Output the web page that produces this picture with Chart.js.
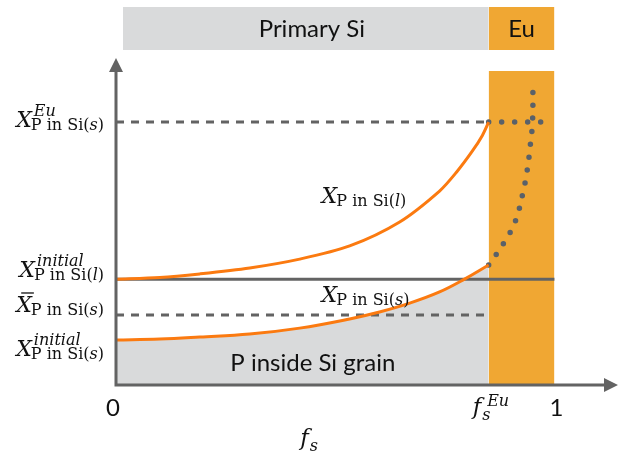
<!DOCTYPE html>
<html>
<head>
<meta charset="utf-8">
<script src="https://cdn.jsdelivr.net/npm/chart.js@4.4.1/dist/chart.umd.min.js"></script>
<style>
  body { margin: 0; background: #fff; }
  #wrap { width: 634px; height: 452px; }
</style>
</head>
<body>
<div id="wrap"><canvas id="schem" width="634" height="452"></canvas></div>
<script>
// x = solid fraction f_s, y = P content (arbitrary units)
const fsEu = 0.85;
const fsEnd = 1.0;

const liquidX = [0, 0.100, 0.191, 0.305, 0.419, 0.533, 0.647, 0.738, 0.777, 0.813, 0.836, 0.85];
const liquidY = [3.22, 3.27, 3.38, 3.56, 3.83, 4.23, 4.96, 5.90, 6.48, 7.12, 7.60, 8.0];

const solidX = [0, 0.100, 0.191, 0.305, 0.419, 0.533, 0.601, 0.670, 0.738, 0.795, 0.85];
const solidY = [1.37, 1.40, 1.46, 1.55, 1.73, 2.01, 2.22, 2.49, 2.83, 3.22, 3.65];

const euX = [0.85, 0.886, 0.911, 0.927, 0.938, 0.945, 0.950, 0.951];
const euY = [3.65, 4.35, 4.99, 5.78, 6.54, 7.30, 8.0, 9.28];

// levels on the y axis: X^Eu, X^initial (liquid), mean X (solid), X^initial (solid)
const levelValues = [8.0, 3.22, 2.13, 1.37];
const levelSup = ["Eu", "initial", "", "initial"];
const levelPhase = ["s", "l", "s", "s"];
const levelBar = [false, false, true, false];

const euLevelEnd = 0.98;
const bandTop = 9.55;
const topBarLow = 10.19, topBarHigh = 11.5, topBarStart = 0.016;
const xAxisMax = 1.145, yAxisMax = 11.5, yArrow = 9.95;

const orange = "#fb7a10";
const bandOrange = "#f0a733";
const lightGray = "#d9dadb";
const axisGray = "#636363";
const dotGray = "#5a6169";

const pts = (xs, ys) => xs.map((v, i) => ({ x: v, y: ys[i] }));
const flat = (x1, x2, v) => [{ x: x1, y: v }, { x: x2, y: v }];
const none = "rgba(0,0,0,0)";

const labelDy = [5, -2, -3, 16];

function drawX(ctx, xPos, base, o, align) {
  const mainF = 'italic 22px "DejaVu Serif"';
  const subF = '16px "DejaVu Serif"';
  const subIt = 'italic 16px "DejaVu Serif"';
  const supF = 'italic 16px "DejaVu Serif"';
  ctx.font = mainF;
  const wX = ctx.measureText("X").width;
  let subRuns = [];
  if (o.phase) subRuns = [["P in Si(", subF], [o.phase, subIt], [")", subF]];
  let subW = 0;
  subRuns.forEach(r => { ctx.font = r[1]; subW += ctx.measureText(r[0]).width; });
  ctx.font = supF;
  const supW = o.sup ? ctx.measureText(o.sup).width + 3 : 0;
  const total = wX + Math.max(subW, supW);
  const left = align === "right" ? xPos - total : xPos;
  ctx.textAlign = "left";
  ctx.textBaseline = "alphabetic";
  ctx.font = mainF;
  ctx.fillText("X", left, base);
  if (o.bar) {
    ctx.save();
    ctx.strokeStyle = "#111"; ctx.lineWidth = 1.3;
    ctx.beginPath(); ctx.moveTo(left + 5, base - 19); ctx.lineTo(left + wX + 2, base - 19); ctx.stroke();
    ctx.restore();
  }
  let cx = left + wX - 1;
  subRuns.forEach(r => { ctx.font = r[1]; ctx.fillText(r[0], cx, base + 3); cx += ctx.measureText(r[0]).width; });
  if (o.sup) { ctx.font = supF; ctx.fillText(o.sup, left + wX + 2, base - 11); }
}

function drawF(ctx, left, base, sup) {
  ctx.textAlign = "left"; ctx.textBaseline = "alphabetic";
  ctx.font = 'italic 23px "DejaVu Serif"';
  ctx.fillText("f", left, base);
  const w = ctx.measureText("f").width;
  ctx.font = 'italic 16px "DejaVu Serif"';
  ctx.fillText("s", left + w + 1, base + 6);
  if (sup) ctx.fillText(sup, left + w + 6, base - 8);
}

const annot = {
  id: "annot",
  afterDatasetsDraw(chart) {
    const { ctx, scales: { x, y } } = chart;
    ctx.save();
    const x0 = x.getPixelForValue(0), y0 = y.getPixelForValue(0);
    const yTop = y.getPixelForValue(yArrow), xEnd = x.getPixelForValue(xAxisMax);
    // axes with arrow heads
    ctx.strokeStyle = axisGray; ctx.fillStyle = axisGray; ctx.lineWidth = 3;
    ctx.beginPath();
    ctx.moveTo(x0, y0 + 1.5); ctx.lineTo(x0, yTop + 12);
    ctx.moveTo(x0 - 1.5, y0); ctx.lineTo(xEnd - 12, y0);
    ctx.stroke();
    ctx.beginPath();
    ctx.moveTo(x0, yTop); ctx.lineTo(x0 - 7, yTop + 14); ctx.lineTo(x0 + 7, yTop + 14); ctx.closePath();
    ctx.moveTo(xEnd, y0); ctx.lineTo(xEnd - 14, y0 - 7); ctx.lineTo(xEnd - 14, y0 + 7); ctx.closePath();
    ctx.fill();

    ctx.fillStyle = "#111";
    // y level labels
    levelValues.forEach((v, i) => {
      drawX(ctx, x0 - 11, y.getPixelForValue(v) + labelDy[i],
        { sup: levelSup[i], phase: levelPhase[i], bar: levelBar[i] }, "right");
    });
    // curve labels
    drawX(ctx, x.getPixelForValue(0.469), y.getPixelForValue(5.54), { phase: "l" }, "left");
    drawX(ctx, x.getPixelForValue(0.469), y.getPixelForValue(2.53), { phase: "s" }, "left");

    // x labels
    ctx.font = '24px Lato';
    ctx.textAlign = "center"; ctx.textBaseline = "alphabetic";
    ctx.fillText("0", x0 - 3, y0 + 31);
    ctx.fillText("1", x.getPixelForValue(fsEnd) + 2, y0 + 31);
    drawF(ctx, x.getPixelForValue(fsEu) - 16, y0 + 29, "Eu");
    drawF(ctx, x.getPixelForValue(0.42), y0 + 60, "");

    // region labels
    ctx.font = '24px Lato';
    ctx.textAlign = "center"; ctx.textBaseline = "middle";
    const barMid = y.getPixelForValue((topBarLow + topBarHigh) / 2) + 1;
    ctx.fillText("Primary Si", x.getPixelForValue((topBarStart + fsEu) / 2) + 6, barMid);
    ctx.fillText("Eu", x.getPixelForValue((fsEu + fsEnd) / 2), barMid);
    ctx.fillText("P inside Si grain", x.getPixelForValue(0.449), y.getPixelForValue(0.67));
    ctx.restore();
  }
};

new Chart(document.getElementById("schem"), {
  type: "line",
  data: {
    datasets: [
      { data: pts(liquidX, liquidY), borderColor: orange, borderWidth: 3, tension: 0.3, order: 1 },
      { data: pts(solidX, solidY), borderColor: orange, borderWidth: 3, tension: 0.4, order: 1 },
      { data: pts(euX, euY), borderColor: dotGray, borderWidth: 5.5, borderDash: [0, 13], borderCapStyle: "round", tension: 0.4, order: 2 },
      { data: flat(fsEu, euLevelEnd, levelValues[0]), borderColor: dotGray, borderWidth: 5.5, borderDash: [0, 13], borderCapStyle: "round", order: 2 },
      { data: flat(0, fsEu, levelValues[0]), borderColor: axisGray, borderWidth: 3, borderDash: [8, 7], order: 3 },
      { data: flat(0, fsEu, levelValues[2]), borderColor: axisGray, borderWidth: 3, borderDash: [8, 7], order: 3 },
      { data: flat(0, fsEnd, levelValues[1]), borderColor: axisGray, borderWidth: 3, order: 3 },
      { data: pts(solidX, solidY), borderColor: none, borderWidth: 0, backgroundColor: lightGray, fill: "origin", tension: 0.4, order: 20 },
      { data: flat(fsEu, fsEnd, bandTop), borderColor: none, borderWidth: 0, backgroundColor: bandOrange, fill: "origin", order: 20 },
      { data: flat(topBarStart, fsEu, topBarHigh), borderColor: none, borderWidth: 0, backgroundColor: lightGray, fill: { value: topBarLow }, order: 20 },
      { data: flat(fsEu, fsEnd, topBarHigh), borderColor: none, borderWidth: 0, backgroundColor: bandOrange, fill: { value: topBarLow }, order: 20 }
    ]
  },
  options: {
    responsive: false,
    animation: false,
    layout: { padding: { left: 116, right: 16, top: 7, bottom: 67 } },
    elements: { point: { radius: 0, hoverRadius: 0 } },
    plugins: { legend: { display: false }, tooltip: { enabled: false } },
    scales: {
      x: { type: "linear", min: 0, max: xAxisMax, display: false },
      y: { type: "linear", min: 0, max: yAxisMax, display: false }
    }
  },
  plugins: [annot]
});
</script>
</body>
</html>
